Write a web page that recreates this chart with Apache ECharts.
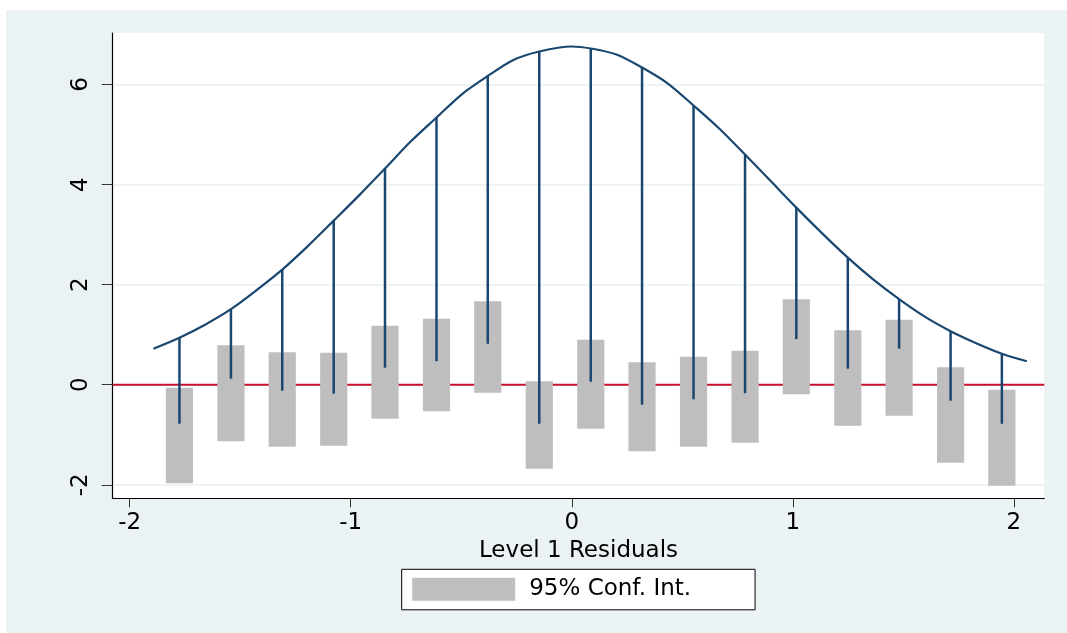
<!DOCTYPE html>
<html>
<head>
<meta charset="utf-8">
<script src="https://cdn.jsdelivr.net/npm/echarts@6/dist/echarts.min.js"></script>
<style>
  html, body { margin: 0; padding: 0; background: #ffffff; }
  #wrap { position: relative; width: 1067px; height: 633px; overflow: hidden; }
  #bg { position: absolute; left: 6px; top: 10px; width: 1061px; height: 623px; background: #eaf2f3; }
  #chart { position: absolute; left: 0; top: 0; width: 1067px; height: 633px; }
</style>
</head>
<body>
<div id="wrap"><div id="bg"></div><div id="chart"></div></div>
<script>
// ---- data ----
const binX         = [-1.775, -1.542, -1.310, -1.077, -0.845, -0.612, -0.380, -0.147, 0.086, 0.318, 0.551, 0.784, 1.016, 1.249, 1.481, 1.714, 1.946];
const expectedRoot = [0.94, 1.51, 2.30, 3.28, 4.32, 5.34, 6.17, 6.66, 6.71, 6.34, 5.58, 4.60, 3.54, 2.54, 1.71, 1.07, 0.62];
const spikeBottom  = [-0.78, 0.12, -0.12, -0.18, 0.34, 0.47, 0.82, -0.78, 0.06, -0.40, -0.29, -0.17, 0.91, 0.32, 0.72, -0.32, -0.78];
const ciUpper      = [-0.06, 0.79, 0.65, 0.64, 1.18, 1.32, 1.67, 0.07, 0.90, 0.45, 0.56, 0.68, 1.71, 1.09, 1.30, 0.35, -0.10];
const ciLower      = [-1.97, -1.13, -1.24, -1.22, -0.68, -0.53, -0.16, -1.68, -0.88, -1.33, -1.24, -1.16, -0.19, -0.82, -0.62, -1.56, -2.02];
// normal-density curve (square-root scale), read along its length
const curveX = [-1.893, -1.775, -1.659, -1.542, -1.426, -1.310, -1.194, -1.077, -0.961, -0.845, -0.729, -0.612, -0.496, -0.380, -0.264, -0.147, 0.000, 0.086, 0.202, 0.318, 0.435, 0.551, 0.667, 0.784, 0.900, 1.016, 1.132, 1.249, 1.365, 1.481, 1.597, 1.714, 1.830, 1.946, 2.059];
const curveY = [0.72, 0.94, 1.20, 1.51, 1.89, 2.30, 2.77, 3.28, 3.79, 4.32, 4.86, 5.34, 5.81, 6.17, 6.49, 6.66, 6.76, 6.72, 6.60, 6.34, 6.02, 5.58, 5.12, 4.60, 4.07, 3.54, 3.03, 2.54, 2.10, 1.71, 1.36, 1.07, 0.83, 0.62, 0.47];
const xTicks = [-2, -1, 0, 1, 2];
const yTicks = [-2, 0, 2, 4, 6];
const xTitle = 'Level 1 Residuals';
const legendLabel = '95% Conf. Int.';

// ---- layout / style constants ----
const X_MIN = -2.077, X_MAX = 2.138;
const Y_MIN = -2.27, Y_MAX = 7.03;
const BAR_HALF = 0.0615;
const NAVY = '#1a476f';
const RED = '#c8102e';
const GREY = '#bebebe';
const FONT = 'DejaVu Sans';

const ciData = binX.map((x, i) => [x, ciLower[i], ciUpper[i]]);
const spikeData = binX.map((x, i) => [x, spikeBottom[i], expectedRoot[i]]);
const curveData = curveX.map((x, i) => [x, curveY[i]]);

const chart = echarts.init(document.getElementById('chart'), null, { renderer: 'canvas' });
chart.setOption({
  animation: false,
  backgroundColor: 'transparent',
  textStyle: { fontFamily: FONT },
  grid: {
    left: 112.7, right: 22.7, top: 33, bottom: 134.7,
    show: true, backgroundColor: '#ffffff', borderWidth: 0
  },
  legend: {
    show: true,
    data: [{ name: legendLabel, icon: 'rect' }],
    left: 401.7, top: 569.3,
    orient: 'horizontal',
    itemWidth: 103, itemHeight: 23,
    padding: [8.5, 64, 9, 10.5],
    borderColor: '#000000', borderWidth: 1,
    backgroundColor: '#ffffff',
    borderRadius: 0,
    selectedMode: false,
    textStyle: { fontFamily: FONT, fontSize: 23, color: '#000000', padding: [0, 0, 0, 9] }
  },
  xAxis: {
    type: 'value', min: X_MIN, max: X_MAX,
    name: xTitle, nameLocation: 'middle', nameGap: 32,
    nameTextStyle: { fontFamily: FONT, fontSize: 23, color: '#000000' },
    axisLine: { show: true, onZero: false, lineStyle: { color: '#000000', width: 1.2 } },
    axisTick: { show: true, length: 9, customValues: xTicks, lineStyle: { color: '#333333', width: 1 } },
    axisLabel: { customValues: xTicks, fontFamily: FONT, fontSize: 23, color: '#000000', margin: 13 },
    splitLine: { show: false }
  },
  yAxis: {
    type: 'value', min: Y_MIN, max: Y_MAX,
    axisLine: { show: true, onZero: false, lineStyle: { color: '#000000', width: 1.2 } },
    axisTick: { show: true, length: 11, customValues: yTicks, lineStyle: { color: '#333333', width: 1 } },
    axisLabel: { customValues: yTicks, rotate: 90, fontFamily: FONT, fontSize: 23, color: '#000000', margin: 20 },
    splitLine: { show: true, lineStyle: { color: '#e8eff1', width: 1.5 } }
  },
  series: [
    {
      name: 'zero', type: 'line', z: 1, silent: true,
      data: [[X_MIN, 0], [X_MAX, 0]],
      symbol: 'none',
      lineStyle: { color: RED, width: 2 }
    },
    {
      name: legendLabel, type: 'custom', z: 2, silent: true,
      itemStyle: { color: GREY },
      encode: { x: 0, y: [1, 2] },
      data: ciData,
      renderItem: function (params, api) {
        const x = api.value(0), lo = api.value(1), hi = api.value(2);
        const p1 = api.coord([x - BAR_HALF, hi]);
        const p2 = api.coord([x + BAR_HALF, lo]);
        return {
          type: 'rect',
          shape: { x: p1[0], y: p1[1], width: p2[0] - p1[0], height: p2[1] - p1[1] },
          style: { fill: api.visual('color') }
        };
      }
    },
    {
      name: 'spikes', type: 'custom', z: 3, silent: true,
      encode: { x: 0, y: [1, 2] },
      data: spikeData,
      renderItem: function (params, api) {
        const x = api.value(0);
        const a = api.coord([x, api.value(1)]);
        const b = api.coord([x, api.value(2)]);
        return {
          type: 'line',
          shape: { x1: a[0], y1: a[1], x2: b[0], y2: b[1] },
          style: { stroke: NAVY, lineWidth: 2.5 }
        };
      }
    },
    {
      name: 'curve', type: 'line', z: 4, silent: true,
      data: curveData, smooth: 0.3, symbol: 'none',
      lineStyle: { color: NAVY, width: 2.2 }
    }
  ]
});
</script>
</body>
</html>
